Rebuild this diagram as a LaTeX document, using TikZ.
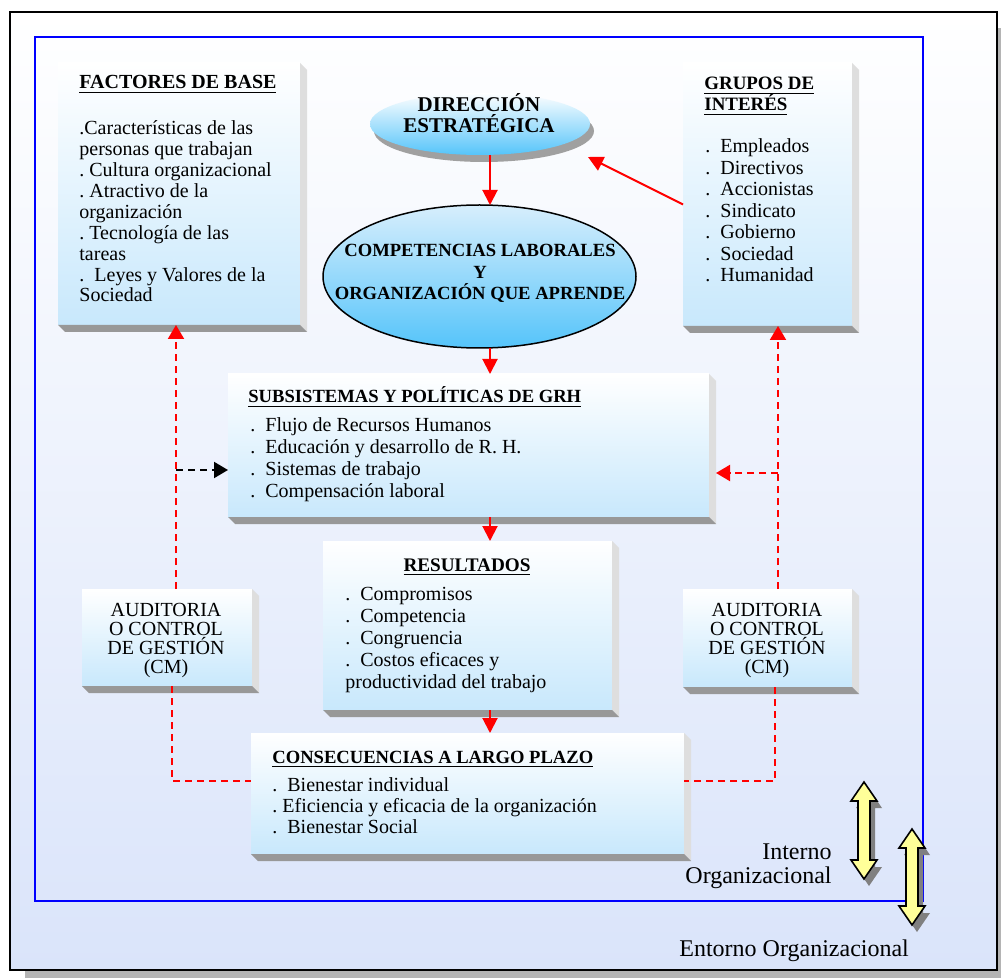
\documentclass[tikz,border=0pt]{standalone}
\usepackage{fontspec}
\setmainfont{Liberation Serif}
\usetikzlibrary{arrows.meta,shapes.geometric,fit}

\definecolor{framebot}{RGB}{218,228,250}
\definecolor{boxblue}{RGB}{200,232,252}
\definecolor{ellblue}{RGB}{85,196,250}
\definecolor{elltop}{RGB}{215,238,252}
\definecolor{sideface}{RGB}{222,222,222}
\definecolor{baseface}{RGB}{152,152,152}
\definecolor{frameshadow}{RGB}{180,180,180}
\definecolor{ellshadow}{RGB}{160,160,160}
\definecolor{arrowshadow}{RGB}{128,128,128}
\definecolor{paleyellow}{RGB}{255,255,153}
\definecolor{pureblue}{RGB}{0,0,255}
\definecolor{purered}{RGB}{255,0,0}

% bevelled right and bottom faces of a box node
\newcommand{\extrude}[1]{%
  \fill[sideface] (#1.north east) -- ([shift={(7,7)}]#1.north east)
    -- ([shift={(7,7)}]#1.south east) -- (#1.south east) -- cycle;
  \fill[baseface] (#1.south west) -- ([shift={(7,7)}]#1.south west)
    -- ([shift={(7,7)}]#1.south east) -- (#1.south east) -- cycle;}

% vertical double-headed block arrow: centre x, top y, bottom y
\newcommand{\bidiarrow}[3]{%
  \begin{scope}[shift={(5,7)}]
    \fill[arrowshadow] (#1,#2) -- ({#1+13},{#2+19}) -- ({#1+6},{#2+19})
      -- ({#1+6},{#3-19}) -- ({#1+13},{#3-19}) -- (#1,#3) -- ({#1-13},{#3-19})
      -- ({#1-6},{#3-19}) -- ({#1-6},{#2+19}) -- ({#1-13},{#2+19}) -- cycle;
  \end{scope}
  \filldraw[fill=paleyellow, draw=black, line width=0.8pt, line join=miter]
    (#1,#2) -- ({#1+13},{#2+19}) -- ({#1+6},{#2+19})
    -- ({#1+6},{#3-19}) -- ({#1+13},{#3-19}) -- (#1,#3) -- ({#1-13},{#3-19})
    -- ({#1-6},{#3-19}) -- ({#1-6},{#2+19}) -- ({#1-13},{#2+19}) -- cycle;}

\begin{document}
\frenchspacing
\lineskiplimit=-5pt
% multi-line text nodes are placed by the baseline of their last line
\begin{tikzpicture}[x=0.5pt,y=-0.5pt,
  box/.style={rectangle, inner sep=0pt, outer sep=0pt,
    top color=white, bottom color=boxblue},
  ell/.style={ellipse, inner sep=0pt, outer sep=0pt},
  hd/.style={font=\fontsize{#1}{10.5}\selectfont\bfseries,
    anchor=base west, inner sep=0pt, align=left},
  hd/.default=9.6,
  body/.style={font=\fontsize{10}{#1}\selectfont,
    anchor=base west, inner sep=0pt, align=left},
  body/.default=10.5pt,
  etxt/.style 2 args={font=\fontsize{#1}{#2}\selectfont\bfseries,
    anchor=base, inner sep=0pt, align=center},
  audtxt/.style={font=\fontsize{10}{9.5}\selectfont,
    anchor=base, inner sep=0pt, align=center},
  lbl/.style={font=\fontsize{12}{12}\selectfont, inner sep=0pt},
  redarrow/.style={draw=purered, line width=1pt,
    -{Triangle[width=7.5pt,length=7.5pt]}},
  reddash/.style={draw=purered, line width=1pt, dash pattern=on 3.5pt off 2.5pt},
  dashtip/.style={-{Triangle[width=8pt,length=7pt]}},
]
\useasboundingbox (0,0) rectangle (1001,978);

% outer frame (environment) with its drop shadow
\fill[frameshadow] (25,28) rectangle (1001,978);
\draw[black, line width=1pt, top color=white, bottom color=framebot]
  (10,12) rectangle (997,970);

% inner frame (organisation)
\draw[pureblue, line width=1pt] (35,37) rectangle (923,901);

% boxes
\node[box, fit={(58,63) (300,325)}] (fb) {};
\node[box, fit={(683,63) (852,326)}] (gi) {};
\node[box, fit={(228,374) (709,517)}] (sub) {};
\node[box, fit={(323,541) (612,710)}] (res) {};
\node[box, fit={(251,733) (684,854)}] (con) {};
\node[box, fit={(82,589) (252,686)}] (audL) {};
\node[box, fit={(683,589) (852,687)}] (audR) {};
\foreach \b in {fb,gi,sub,res,con,audL,audR} {\extrude{\b}}

% ellipses
\fill[ellshadow] (484,131) ellipse [x radius=55pt, y radius=15.5pt];
\node[ell, minimum width=110pt, minimum height=31pt,
  top color=white, bottom color=ellblue] (dir) at (480,124) {};
\node[ell, draw=black, line width=0.75pt, minimum width=156.5pt, minimum height=71.5pt,
  top color=elltop, bottom color=ellblue] (comp) at (479.5,276.5) {};

% reference points for the connectors
\coordinate (axis) at (490,0);
\coordinate (lxa) at (176,470);
\coordinate (rxa) at (778,473);
\coordinate (lly) at (172,781);
\coordinate (rly) at (775,781);

% main flow
\draw[redarrow] (axis |- dir.south) -- (axis |- comp.north);
\draw[redarrow] (axis |- comp.south) -- (axis |- sub.north);
\draw[redarrow] (axis |- sub.south) -- (axis |- res.north);
\draw[redarrow] (axis |- res.south) -- (axis |- con.north);
\draw[redarrow] ([yshift=-5pt]gi.west) -- ([shift={(108,33)}]dir.center);

% audit loops
\draw[reddash, dashtip] (audL.north -| lxa) -- (fb.south -| lxa);
\draw[draw=black, line width=1pt, dash pattern=on 3.5pt off 2.5pt, dashtip]
  (lxa) -- (lxa -| sub.west);
\draw[reddash] (audL.south -| lly) -- (lly) -- (lly -| con.west);
\draw[reddash, dashtip] (audR.north -| rxa) -- (gi.south -| rxa);
\draw[reddash, dashtip] (rxa) -- ([xshift=3.5pt]rxa -| sub.east);
\draw[reddash] (audR.south -| rly) -- (rly) -- (rly -| con.east);

% texts
\node[hd=10] (fbh) at (79,89) {\underline{FACTORES DE BASE}};
\node[body=10.45pt] (fbt) at (79,302) {.Características de las\\
  personas que trabajan\\
  . Cultura organizacional\\
  . Atractivo de la\\
  organización\\
  . Tecnología de las\\
  tareas\\
  .~~Leyes y Valores de la\\
  Sociedad};

\node[hd=9.45] (gih) at (704,111) {\underline{GRUPOS DE}\\\underline{INTERÉS}};
\node[body=10.75pt] (git) at (705,282) {.~~Empleados\\
  .~~Directivos\\
  .~~Accionistas\\
  .~~Sindicato\\
  .~~Gobierno\\
  .~~Sociedad\\
  .~~Humanidad};

\node[etxt={10.5}{10.5pt}] (dirt) at (479,133) {DIRECCIÓN\\ESTRATÉGICA};
\node[etxt={9.3}{10.75pt}] (compt) at (480,300)
  {COMPETENCIAS LABORALES\\Y\\ORGANIZACIÓN QUE APRENDE};

\node[hd=9.3] (subh) at (248,403) {\underline{SUBSISTEMAS Y POLÍTICAS DE GRH}};
\node[body=11pt] (subt) at (250,497) {.~~Flujo de Recursos Humanos\\
  .~~Educación y desarrollo de R. H.\\
  .~~Sistemas de trabajo\\
  .~~Compensación laboral};

\node[hd, anchor=base] (resh) at (467,571) {\underline{RESULTADOS}};
\node[body=11pt] (rest) at (345,688) {.~~Compromisos\\
  .~~Competencia\\
  .~~Congruencia\\
  .~~Costos eficaces y\\
  productividad del trabajo};

\node[hd=9.3] (conh) at (272,763) {\underline{CONSECUENCIAS A LARGO PLAZO}};
\node[body=10.5pt] (cont) at (272,833) {.~~Bienestar individual\\
  . Eficiencia y eficacia de la organización\\
  .~~Bienestar Social};

\node[audtxt] (audLt) at (166,673) {AUDITORIA\\O CONTROL\\DE GESTIÓN\\(CM)};
\node[audtxt] (audRt) at (767,673) {AUDITORIA\\O CONTROL\\DE GESTIÓN\\(CM)};

% internal / external scope markers
\bidiarrow{864}{782}{879}
\bidiarrow{912}{829}{925}
\node[lbl, anchor=base east, align=right] (interno) at (832,883) {Interno\\Organizacional};
\node[lbl, anchor=base west] (entorno) at (679,956) {Entorno Organizacional};
\end{tikzpicture}
\end{document}
